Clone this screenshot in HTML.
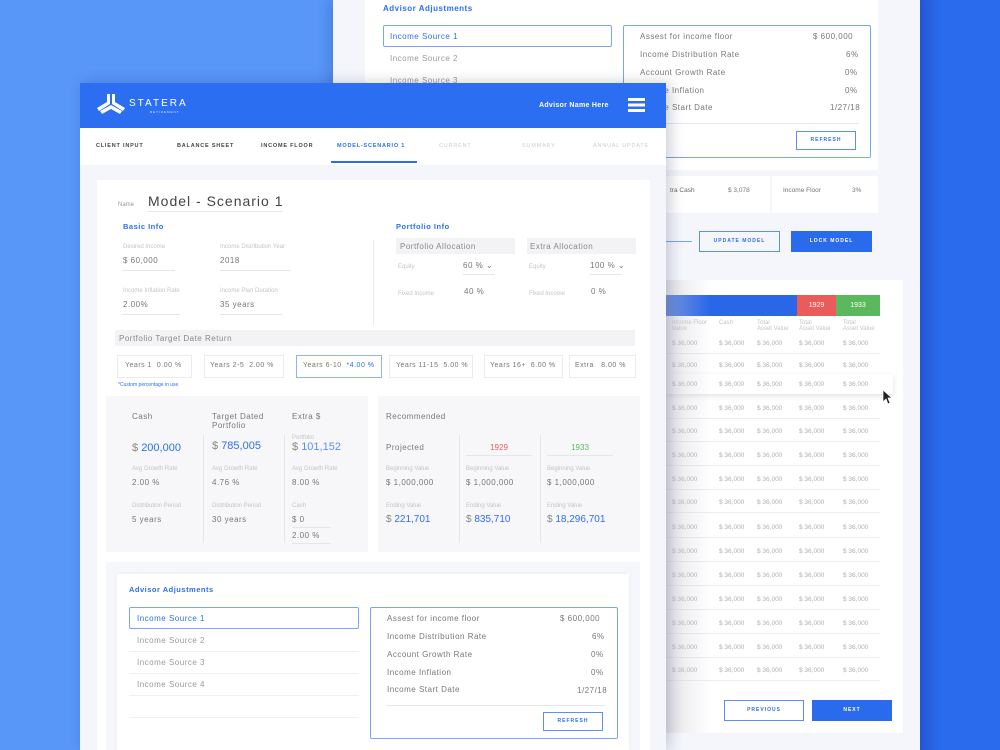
<!DOCTYPE html>
<html><head><meta charset="utf-8"><style>
*{margin:0;padding:0;box-sizing:border-box}
body{width:1000px;height:750px;overflow:hidden;position:relative;background:#5896f8;font-family:"Liberation Sans",sans-serif;color:#666}
.a{position:absolute;white-space:nowrap}
.blue{color:#2c6ef2}
.lbl{font-size:6px;color:#c4c4c8}
.val{font-size:8px;color:#777;letter-spacing:.5px}
.ul{border-bottom:1px solid #e6e6ea}
.btn{border:1.5px solid #5b8ff5;color:#2c6ef2;font-size:5px;font-weight:bold;letter-spacing:1px;text-align:center}
.tc{font-size:6.5px;color:#b0b0b4}
</style></head><body>
<div class="a" style="left:918px;top:0;width:82px;height:750px;background:linear-gradient(90deg,#2457d0,#2a6bee 30%,#2a6bee)"></div>
<!-- back card -->
<div class="a" style="left:333px;top:0;width:587px;height:750px;background:#f4f6fc;box-shadow:-4px 0 12px rgba(0,0,60,.15)"></div>
<div class="a" style="left:365px;top:0;width:513px;height:170px;background:#fff"></div>
<div class="a blue" style="left:383px;top:4px;font-size:8px;font-weight:bold;letter-spacing:.5px">Advisor Adjustments</div>
<div class="a" style="left:383px;top:25px;width:229px;height:22px;border:1.5px solid #7aa5f6;border-radius:2px"></div>
<div class="a blue" style="left:390px;top:32px;font-size:8px;letter-spacing:.5px">Income Source 1</div>
<div class="a val" style="left:390px;top:54px;color:#999">Income Source 2</div>
<div class="a val" style="left:390px;top:76px;color:#999">Income Source 3</div>
<div class="a" style="left:623px;top:25px;width:248px;height:133px;border:1.5px solid #7aa5f6;border-radius:2px"></div>
<div class="a val" style="left:640px;top:32px">Assest for income floor</div><div class="a val" style="left:813px;top:32px">$ 600,000</div>
<div class="a val" style="left:640px;top:50px">Income Distribution Rate</div><div class="a val" style="left:846px;top:50px">6%</div>
<div class="a val" style="left:640px;top:68px">Account Growth Rate</div><div class="a val" style="left:845px;top:68px">0%</div>
<div class="a val" style="left:640px;top:86px">Income Inflation</div><div class="a val" style="left:845px;top:86px">0%</div>
<div class="a val" style="left:640px;top:103px">Income Start Date</div><div class="a val" style="left:830px;top:103px">1/27/18</div>
<div class="a" style="left:640px;top:123px;width:218px;border-top:1px solid #e6e6ea"></div>
<div class="a btn" style="left:796px;top:131px;width:60px;height:19px;line-height:17px">REFRESH</div>
<div class="a" style="left:665px;top:176px;width:105px;height:37px;background:#fff"></div>
<div class="a" style="left:772px;top:176px;width:106px;height:37px;background:#fff"></div>
<div class="a" style="left:670px;top:187px;font-size:6.5px;color:#666">tra Cash</div><div class="a" style="left:728px;top:187px;font-size:6.5px;color:#777">$ 3,078</div>
<div class="a" style="left:783px;top:187px;font-size:6.5px;color:#777">Income Floor</div><div class="a" style="left:852px;top:187px;font-size:6.5px;color:#777">3%</div>
<div class="a" style="left:665px;top:241px;width:27px;border-top:1px solid #7aa5f6"></div>
<div class="a btn" style="left:699px;top:231px;width:81px;height:21px;line-height:18px">UPDATE MODEL</div>
<div class="a" style="left:791px;top:231px;width:81px;height:21px;background:#2a6bee;color:#fff;font-size:5px;font-weight:bold;letter-spacing:1px;text-align:center;line-height:21px">LOCK MODEL</div>
<div class="a" style="left:665px;top:280px;width:238px;height:453px;background:#fff"></div>
<div class="a" style="left:666px;top:295px;width:131px;height:21px;background:#2a66e8"></div>
<div class="a" style="left:797px;top:295px;width:39px;height:21px;background:#eb5b5b;color:#fff;font-size:7px;text-align:center;line-height:21px">1929</div>
<div class="a" style="left:836px;top:295px;width:44px;height:21px;background:#5cb85c;color:#fff;font-size:7px;text-align:center;line-height:21px">1933</div>
<div class="a lbl" style="left:672px;top:320px;line-height:6px">Income Floor<br>Value</div>
<div class="a lbl" style="left:719px;top:320px">Cash</div>
<div class="a lbl" style="left:757px;top:320px;line-height:6px">Total<br>Asset Value</div>
<div class="a lbl" style="left:799px;top:320px;line-height:6px">Total<br>Asset Value</div>
<div class="a lbl" style="left:843px;top:320px;line-height:6px">Total<br>Asset Value</div>
<div class="a" style="left:666px;top:374px;width:227px;height:20px;background:#fff;box-shadow:0 2px 5px rgba(0,0,0,.12)"></div>
<div id="rows"></div>
<div class="a btn" style="left:724px;top:700px;width:80px;height:21px;line-height:18px">PREVIOUS</div>
<div class="a" style="left:812px;top:700px;width:80px;height:21px;background:#2a6bee;color:#fff;font-size:5px;font-weight:bold;letter-spacing:1px;text-align:center;line-height:21px">NEXT</div>
<div class="a" style="left:665px;top:280px;width:45px;height:453px;background:linear-gradient(90deg,rgba(200,200,210,.5),rgba(255,255,255,0))"></div>
<svg class="a" style="left:882px;top:389px" width="10" height="16" viewBox="0 0 10 16"><path d="M1 1v12l3-3 2 5 2-1-2-5h4z" fill="#222" stroke="#fff" stroke-width=".7"/></svg>
<!-- front card -->
<div class="a" style="left:80px;top:83px;width:586px;height:667px;background:#f4f6fc;box-shadow:4px 0 14px rgba(0,0,60,.2)"></div>
<div class="a" style="left:80px;top:83px;width:586px;height:45px;background:#2c6ef2"></div>
<svg class="a" style="left:97px;top:94px" width="28" height="22" viewBox="0 0 28 22"><path d="M10 0h3v10l-11 7-2-3 10-6zM15 0h3v8l10 6-2 3-11-7z M3 17l11-6 11 6-2 3-9-5-9 5z" fill="#fff"/></svg>
<div class="a" style="left:129px;top:98px;color:#fff;font-size:10px;letter-spacing:2px">STATERA</div>
<div class="a" style="left:150px;top:110px;color:#dfe8ff;font-size:3px;letter-spacing:1px">RETIREMENT</div>
<div class="a" style="left:539px;top:102px;color:#fff;font-size:7px;font-weight:bold;letter-spacing:.3px">Advisor Name Here</div>
<div class="a" style="left:628px;top:98px;width:17px;height:3px;background:#fff;box-shadow:0 5.5px #fff,0 11px #fff"></div>
<div class="a" style="left:80px;top:128px;width:586px;height:37px;background:#fff"></div>
<div class="a" style="left:96px;top:143px;font-size:5.5px;font-weight:bold;color:#444;letter-spacing:.8px">CLIENT INPUT</div>
<div class="a" style="left:177px;top:143px;font-size:5.5px;font-weight:bold;color:#444;letter-spacing:.8px">BALANCE SHEET</div>
<div class="a" style="left:261px;top:143px;font-size:5.5px;font-weight:bold;color:#444;letter-spacing:.8px">INCOME FLOOR</div>
<div class="a blue" style="left:337px;top:143px;font-size:5.5px;font-weight:bold;letter-spacing:.8px">MODEL-SCENARIO 1</div>
<div class="a" style="left:331px;top:161px;width:86px;height:2px;background:#2c6ef2"></div>
<div class="a" style="left:439px;top:143px;font-size:5.5px;color:#ccc;letter-spacing:.8px">CURRENT</div>
<div class="a" style="left:522px;top:143px;font-size:5.5px;color:#ccc;letter-spacing:.8px">SUMMARY</div>
<div class="a" style="left:593px;top:143px;font-size:5.5px;color:#ccc;letter-spacing:.8px">ANNUAL UPDATE</div>
<div class="a" style="left:97px;top:180px;width:553px;height:570px;background:#fff"></div>
<div class="a lbl" style="left:118px;top:202px;color:#999">Name</div>
<div class="a ul" style="left:148px;top:193px;font-size:14px;color:#444;letter-spacing:1px;padding-bottom:2px;width:135px">Model - Scenario 1</div>
<div class="a blue" style="left:123px;top:222px;font-size:7.5px;font-weight:bold;letter-spacing:.5px">Basic Info</div>
<div class="a blue" style="left:396px;top:222px;font-size:7.5px;font-weight:bold;letter-spacing:.5px">Portfolio Info</div>
<div class="a lbl" style="left:123px;top:244px">Desired Income</div>
<div class="a lbl" style="left:220px;top:244px">Income Distribution Year</div>
<div class="a val ul" style="left:123px;top:256px;width:52px;padding-bottom:5px">$ 60,000</div>
<div class="a val ul" style="left:220px;top:256px;width:70px;padding-bottom:5px">2018</div>
<div class="a lbl" style="left:123px;top:288px">Income Inflation Rate</div>
<div class="a lbl" style="left:220px;top:288px">Income Plan Duration</div>
<div class="a val ul" style="left:123px;top:300px;width:57px;padding-bottom:5px">2.00%</div>
<div class="a val ul" style="left:220px;top:300px;width:62px;padding-bottom:5px">35 years</div>
<div class="a" style="left:373px;top:240px;height:85px;border-left:1px solid #ececef"></div>
<div class="a" style="left:396px;top:238px;width:119px;height:16px;background:#f3f3f5"></div>
<div class="a" style="left:527px;top:238px;width:109px;height:16px;background:#f3f3f5"></div>
<div class="a val" style="left:400px;top:242px;color:#888">Portfolio Allocation</div>
<div class="a val" style="left:530px;top:242px;color:#888">Extra Allocation</div>
<div class="a lbl" style="left:398px;top:264px">Equity</div><div class="a val ul" style="left:463px;top:261px;width:32px;padding-bottom:4px">60 % &#x2304;</div>
<div class="a lbl" style="left:529px;top:264px">Equity</div><div class="a val ul" style="left:590px;top:261px;width:32px;padding-bottom:4px">100 % &#x2304;</div>
<div class="a lbl" style="left:398px;top:291px">Fixed Income</div><div class="a val" style="left:464px;top:287px">40 %</div>
<div class="a lbl" style="left:529px;top:291px">Fixed Income</div><div class="a val" style="left:591px;top:287px">0 %</div>
<div class="a" style="left:115px;top:330px;width:520px;height:16px;background:#f3f3f5"></div>
<div class="a val" style="left:119px;top:334px;color:#888">Portfolio Target Date Return</div>
<div class="a" style="left:117px;top:355px;width:75px;height:23px;border:1px solid #ececef"></div>
<div class="a" style="left:204px;top:355px;width:80px;height:23px;border:1px solid #ececef"></div>
<div class="a" style="left:296px;top:355px;width:86px;height:23px;border:1px solid #8fb3f8"></div>
<div class="a" style="left:389px;top:355px;width:84px;height:23px;border:1px solid #ececef"></div>
<div class="a" style="left:484px;top:355px;width:79px;height:23px;border:1px solid #ececef"></div>
<div class="a" style="left:569px;top:355px;width:67px;height:23px;border:1px solid #ececef"></div>
<div class="a val" style="left:125px;top:362px;font-size:7px">Years 1 &nbsp;0.00 %</div>
<div class="a val" style="left:210px;top:362px;font-size:7px">Years 2-5 &nbsp;2.00 %</div>
<div class="a val" style="left:303px;top:362px;font-size:7px">Years 6-10 &nbsp;<span class="blue">*4.00 %</span></div>
<div class="a val" style="left:396px;top:362px;font-size:7px">Years 11-15 &nbsp;5.00 %</div>
<div class="a val" style="left:490px;top:362px;font-size:7px">Years 16+ &nbsp;6.00 %</div>
<div class="a val" style="left:575px;top:362px;font-size:7px">Extra &nbsp;&nbsp;8.00 %</div>
<div class="a blue" style="left:118px;top:382px;font-size:5px">*Custom percentage in use</div>
<div class="a" style="left:106px;top:396px;width:262px;height:156px;background:#f7f7f9"></div>
<div class="a" style="left:378px;top:396px;width:262px;height:156px;background:#f7f7f9"></div>
<div class="a" style="left:203px;top:435px;height:108px;border-left:1px solid #e6e6ea"></div>
<div class="a" style="left:284px;top:435px;height:108px;border-left:1px solid #e6e6ea"></div>
<div class="a" style="left:459px;top:435px;height:108px;border-left:1px solid #e6e6ea"></div>
<div class="a" style="left:540px;top:435px;height:108px;border-left:1px solid #e6e6ea"></div>
<div class="a val" style="left:132px;top:412px">Cash</div>
<div class="a val" style="left:212px;top:412px;line-height:9px">Target Dated<br>Portfolio</div>
<div class="a val" style="left:292px;top:412px">Extra $</div>
<div class="a lbl" style="left:292px;top:435px">Portfolio</div>
<div class="a" style="left:132px;top:442px;font-size:11px;color:#888">$ <span class="blue">200,000</span></div>
<div class="a" style="left:212px;top:440px;font-size:11px;color:#888">$ <span class="blue">785,005</span></div>
<div class="a" style="left:292px;top:441px;font-size:11px;color:#888">$ <span style="color:#5b8ff5">101,152</span></div>
<div class="a lbl" style="left:132px;top:466px">Avg Growth Rate</div><div class="a lbl" style="left:212px;top:466px">Avg Growth Rate</div><div class="a lbl" style="left:292px;top:466px">Avg Growth Rate</div>
<div class="a val" style="left:132px;top:478px">2.00 %</div><div class="a val" style="left:212px;top:478px">4.76 %</div><div class="a val" style="left:292px;top:478px">8.00 %</div>
<div class="a lbl" style="left:132px;top:503px">Distribution Period</div><div class="a lbl" style="left:212px;top:503px">Distribution Period</div><div class="a lbl" style="left:292px;top:503px">Cash</div>
<div class="a val" style="left:132px;top:515px">5 years</div><div class="a val" style="left:212px;top:515px">30 years</div>
<div class="a val ul" style="left:292px;top:515px;width:38px;padding-bottom:3px">$ 0</div>
<div class="a val ul" style="left:292px;top:531px;width:38px;padding-bottom:3px">2.00 %</div>
<div class="a val" style="left:386px;top:412px">Recommended</div>
<div class="a val" style="left:386px;top:443px">Projected</div>
<div class="a ul" style="left:466px;top:443px;width:66px;font-size:8px;color:#eb5b5b;text-align:center;padding-bottom:3px">1929</div>
<div class="a ul" style="left:547px;top:443px;width:66px;font-size:8px;color:#5cb85c;text-align:center;padding-bottom:3px">1933</div>
<div class="a lbl" style="left:386px;top:466px">Beginning Value</div><div class="a lbl" style="left:466px;top:466px">Beginning Value</div><div class="a lbl" style="left:547px;top:466px">Beginning Value</div>
<div class="a val" style="left:386px;top:478px">$ 1,000,000</div><div class="a val" style="left:466px;top:478px">$ 1,000,000</div><div class="a val" style="left:547px;top:478px">$ 1,000,000</div>
<div class="a lbl" style="left:386px;top:503px">Ending Value</div><div class="a lbl" style="left:466px;top:503px">Ending Value</div><div class="a lbl" style="left:547px;top:503px">Ending Value</div>
<div class="a" style="left:386px;top:514px;font-size:10px;color:#888">$ <span class="blue">221,701</span></div>
<div class="a" style="left:466px;top:514px;font-size:10px;color:#888">$ <span class="blue">835,710</span></div>
<div class="a" style="left:547px;top:514px;font-size:10px;color:#888">$ <span class="blue">18,296,701</span></div>
<div class="a" style="left:106px;top:562px;width:534px;height:188px;background:#f6f7fb"></div>
<div class="a" style="left:117px;top:574px;width:512px;height:176px;background:#fff;box-shadow:0 0 4px rgba(0,0,0,.05)"></div>
<div class="a blue" style="left:129px;top:585px;font-size:7.5px;font-weight:bold;letter-spacing:.5px">Advisor Adjustments</div>
<div class="a" style="left:129px;top:607px;width:230px;height:22px;border:1.5px solid #7aa5f6;border-radius:2px"></div>
<div class="a blue" style="left:137px;top:614px;font-size:8px;letter-spacing:.5px">Income Source 1</div>
<div class="a" style="left:129px;top:651px;width:230px;border-top:1px solid #f0f0f2;box-shadow:0 22px #f0f0f2,0 44px #f0f0f2,0 66px #f0f0f2"></div>
<div class="a val" style="left:137px;top:636px;color:#999">Income Source 2</div>
<div class="a val" style="left:137px;top:658px;color:#999">Income Source 3</div>
<div class="a val" style="left:137px;top:680px;color:#999">Income Source 4</div>
<div class="a" style="left:370px;top:607px;width:248px;height:132px;border:1.5px solid #7aa5f6;border-radius:2px"></div>
<div class="a val" style="left:387px;top:614px">Assest for income floor</div><div class="a val" style="left:560px;top:614px">$ 600,000</div>
<div class="a val" style="left:387px;top:632px">Income Distribution Rate</div><div class="a val" style="left:592px;top:632px">6%</div>
<div class="a val" style="left:387px;top:650px">Account Growth Rate</div><div class="a val" style="left:591px;top:650px">0%</div>
<div class="a val" style="left:387px;top:668px">Income Inflation</div><div class="a val" style="left:591px;top:668px">0%</div>
<div class="a val" style="left:387px;top:685px">Income Start Date</div><div class="a val" style="left:577px;top:686px">1/27/18</div>
<div class="a" style="left:387px;top:705px;width:218px;border-top:1px solid #e6e6ea"></div>
<div class="a btn" style="left:543px;top:712px;width:60px;height:19px;line-height:17px">REFRESH</div>
<script>
var ys=[343,365,384,408,431,455,479,502,527,551,575,599,623,647,670],h='';
var xs=[672,719,757,799,843];
ys.forEach(function(y,i){xs.forEach(function(x){h+='<div class="a tc" style="left:'+x+'px;top:'+(y-3)+'px">$ 36,000</div>'});
if(i!=1&&i!=2)h+='<div class="a" style="left:666px;top:'+(y+10)+'px;width:214px;border-top:1px solid #eee"></div>';});
document.getElementById('rows').innerHTML=h;
</script>
</body></html>
